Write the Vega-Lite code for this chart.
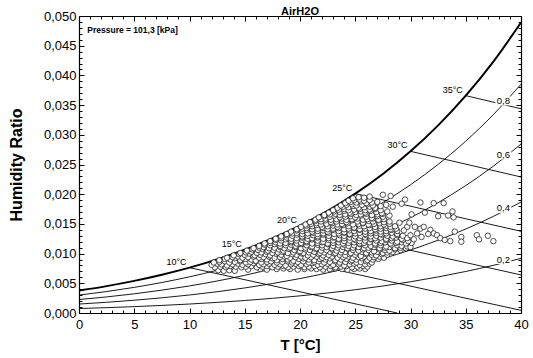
{
  "$schema": "https://vega.github.io/schema/vega-lite/v6.json",
  "width": 442,
  "height": 297,
  "autosize": {"type": "none"},
  "padding": {"left": 79, "top": 16, "right": 12, "bottom": 45},
  "background": "white",
  "title": {"text": "AirH2O", "font": "Liberation Sans", "fontSize": 11, "fontWeight": "bold", "color": "black", "offset": -7, "anchor": "middle"},
  "config": {
    "view": {"stroke": null},
    "axis": {
      "grid": false,
      "labelFont": "Liberation Sans",
      "labelFontSize": 13,
      "labelColor": "black",
      "tickColor": "black",
      "domainColor": "black",
      "titleFont": "Liberation Sans",
      "titleColor": "black",
      "titleFontWeight": "bold"
    }
  },
  "datasets": {
    "curves": [
      {"id": "sat", "kind": "sat", "T": 0, "W": 0.003776},
      {"id": "sat", "kind": "sat", "T": 2.5, "W": 0.004525},
      {"id": "sat", "kind": "sat", "T": 5, "W": 0.005405},
      {"id": "sat", "kind": "sat", "T": 7.5, "W": 0.006438},
      {"id": "sat", "kind": "sat", "T": 10, "W": 0.007634},
      {"id": "sat", "kind": "sat", "T": 12.5, "W": 0.009031},
      {"id": "sat", "kind": "sat", "T": 15, "W": 0.010653},
      {"id": "sat", "kind": "sat", "T": 17.5, "W": 0.012538},
      {"id": "sat", "kind": "sat", "T": 20, "W": 0.014703},
      {"id": "sat", "kind": "sat", "T": 22.5, "W": 0.017193},
      {"id": "sat", "kind": "sat", "T": 25, "W": 0.020091},
      {"id": "sat", "kind": "sat", "T": 27.5, "W": 0.023401},
      {"id": "sat", "kind": "sat", "T": 30, "W": 0.027216},
      {"id": "sat", "kind": "sat", "T": 32.5, "W": 0.031592},
      {"id": "sat", "kind": "sat", "T": 35, "W": 0.036594},
      {"id": "sat", "kind": "sat", "T": 37.5, "W": 0.042328},
      {"id": "sat", "kind": "sat", "T": 40, "W": 0.048907},
      {"id": "rh80", "kind": "thin", "T": 0, "W": 0.003017},
      {"id": "rh80", "kind": "thin", "T": 2.5, "W": 0.003615},
      {"id": "rh80", "kind": "thin", "T": 5, "W": 0.004316},
      {"id": "rh80", "kind": "thin", "T": 7.5, "W": 0.005139},
      {"id": "rh80", "kind": "thin", "T": 10, "W": 0.006092},
      {"id": "rh80", "kind": "thin", "T": 12.5, "W": 0.007204},
      {"id": "rh80", "kind": "thin", "T": 15, "W": 0.008493},
      {"id": "rh80", "kind": "thin", "T": 17.5, "W": 0.00999},
      {"id": "rh80", "kind": "thin", "T": 20, "W": 0.011707},
      {"id": "rh80", "kind": "thin", "T": 22.5, "W": 0.013678},
      {"id": "rh80", "kind": "thin", "T": 25, "W": 0.01597},
      {"id": "rh80", "kind": "thin", "T": 27.5, "W": 0.018581},
      {"id": "rh80", "kind": "thin", "T": 30, "W": 0.021584},
      {"id": "rh80", "kind": "thin", "T": 32.5, "W": 0.025019},
      {"id": "rh80", "kind": "thin", "T": 35, "W": 0.028935},
      {"id": "rh80", "kind": "thin", "T": 37.5, "W": 0.033408},
      {"id": "rh80", "kind": "thin", "T": 40, "W": 0.03852},
      {"id": "rh60", "kind": "thin", "T": 0, "W": 0.00226},
      {"id": "rh60", "kind": "thin", "T": 2.5, "W": 0.002707},
      {"id": "rh60", "kind": "thin", "T": 5, "W": 0.003231},
      {"id": "rh60", "kind": "thin", "T": 7.5, "W": 0.003847},
      {"id": "rh60", "kind": "thin", "T": 10, "W": 0.004558},
      {"id": "rh60", "kind": "thin", "T": 12.5, "W": 0.005387},
      {"id": "rh60", "kind": "thin", "T": 15, "W": 0.006348},
      {"id": "rh60", "kind": "thin", "T": 17.5, "W": 0.007463},
      {"id": "rh60", "kind": "thin", "T": 20, "W": 0.008739},
      {"id": "rh60", "kind": "thin", "T": 22.5, "W": 0.010203},
      {"id": "rh60", "kind": "thin", "T": 25, "W": 0.011901},
      {"id": "rh60", "kind": "thin", "T": 27.5, "W": 0.013833},
      {"id": "rh60", "kind": "thin", "T": 30, "W": 0.016049},
      {"id": "rh60", "kind": "thin", "T": 32.5, "W": 0.018578},
      {"id": "rh60", "kind": "thin", "T": 35, "W": 0.021452},
      {"id": "rh60", "kind": "thin", "T": 37.5, "W": 0.024724},
      {"id": "rh60", "kind": "thin", "T": 40, "W": 0.028449},
      {"id": "rh40", "kind": "thin", "T": 0, "W": 0.001505},
      {"id": "rh40", "kind": "thin", "T": 2.5, "W": 0.001802},
      {"id": "rh40", "kind": "thin", "T": 5, "W": 0.002151},
      {"id": "rh40", "kind": "thin", "T": 7.5, "W": 0.002559},
      {"id": "rh40", "kind": "thin", "T": 10, "W": 0.003031},
      {"id": "rh40", "kind": "thin", "T": 12.5, "W": 0.003581},
      {"id": "rh40", "kind": "thin", "T": 15, "W": 0.004218},
      {"id": "rh40", "kind": "thin", "T": 17.5, "W": 0.004955},
      {"id": "rh40", "kind": "thin", "T": 20, "W": 0.005799},
      {"id": "rh40", "kind": "thin", "T": 22.5, "W": 0.006765},
      {"id": "rh40", "kind": "thin", "T": 25, "W": 0.007884},
      {"id": "rh40", "kind": "thin", "T": 27.5, "W": 0.009154},
      {"id": "rh40", "kind": "thin", "T": 30, "W": 0.010608},
      {"id": "rh40", "kind": "thin", "T": 32.5, "W": 0.012263},
      {"id": "rh40", "kind": "thin", "T": 35, "W": 0.014139},
      {"id": "rh40", "kind": "thin", "T": 37.5, "W": 0.016267},
      {"id": "rh40", "kind": "thin", "T": 40, "W": 0.018681},
      {"id": "rh20", "kind": "thin", "T": 0, "W": 0.000751},
      {"id": "rh20", "kind": "thin", "T": 2.5, "W": 0.0009},
      {"id": "rh20", "kind": "thin", "T": 5, "W": 0.001073},
      {"id": "rh20", "kind": "thin", "T": 7.5, "W": 0.001277},
      {"id": "rh20", "kind": "thin", "T": 10, "W": 0.001512},
      {"id": "rh20", "kind": "thin", "T": 12.5, "W": 0.001785},
      {"id": "rh20", "kind": "thin", "T": 15, "W": 0.002102},
      {"id": "rh20", "kind": "thin", "T": 17.5, "W": 0.002468},
      {"id": "rh20", "kind": "thin", "T": 20, "W": 0.002886},
      {"id": "rh20", "kind": "thin", "T": 22.5, "W": 0.003364},
      {"id": "rh20", "kind": "thin", "T": 25, "W": 0.003917},
      {"id": "rh20", "kind": "thin", "T": 27.5, "W": 0.004543},
      {"id": "rh20", "kind": "thin", "T": 30, "W": 0.005259},
      {"id": "rh20", "kind": "thin", "T": 32.5, "W": 0.006072},
      {"id": "rh20", "kind": "thin", "T": 35, "W": 0.00699},
      {"id": "rh20", "kind": "thin", "T": 37.5, "W": 0.008029},
      {"id": "rh20", "kind": "thin", "T": 40, "W": 0.009203},
      {"id": "wb10", "kind": "thin", "T": 10, "W": 0.007634},
      {"id": "wb10", "kind": "thin", "T": 28.8, "W": 0},
      {"id": "wb15", "kind": "thin", "T": 15, "W": 0.010653},
      {"id": "wb15", "kind": "thin", "T": 40, "W": 0.000447},
      {"id": "wb20", "kind": "thin", "T": 20, "W": 0.014703},
      {"id": "wb20", "kind": "thin", "T": 40, "W": 0.006409},
      {"id": "wb25", "kind": "thin", "T": 25, "W": 0.020091},
      {"id": "wb25", "kind": "thin", "T": 40, "W": 0.013757},
      {"id": "wb30", "kind": "thin", "T": 30, "W": 0.027216},
      {"id": "wb30", "kind": "thin", "T": 40, "W": 0.022903},
      {"id": "wb35", "kind": "thin", "T": 35, "W": 0.036594},
      {"id": "wb35", "kind": "thin", "T": 40, "W": 0.034383}
    ],
    "wetbulb": [
      {"T": 10, "W": 0.007634, "label": "10°C"},
      {"T": 15, "W": 0.010653, "label": "15°C"},
      {"T": 20, "W": 0.014703, "label": "20°C"},
      {"T": 25, "W": 0.020091, "label": "25°C"},
      {"T": 30, "W": 0.027216, "label": "30°C"},
      {"T": 35, "W": 0.036594, "label": "35°C"}
    ],
    "rh": [
      {"T": 38.4, "W": 0.0357, "label": "0,8"},
      {"T": 38.4, "W": 0.0266, "label": "0,6"},
      {"T": 38.4, "W": 0.0176, "label": "0,4"},
      {"T": 38.4, "W": 0.009, "label": "0,2"}
    ],
    "obs": [
      {"T":12.6,"W":0.0072},{"T":13.1,"W":0.0071},{"T":13.6,"W":0.0072},{"T":14.1,"W":0.0071},{"T":15.3,"W":0.0073},{"T":16.4,"W":0.0074},{"T":17.0,"W":0.0073},{"T":17.9,"W":0.0074},{"T":18.5,"W":0.0075},{"T":19.1,"W":0.0074},{"T":19.8,"W":0.0073},{"T":20.4,"W":0.0074},{"T":21.0,"W":0.0075},{"T":21.5,"W":0.0074},{"T":22.1,"W":0.0073},{"T":22.7,"W":0.0074},{"T":23.2,"W":0.0075},{"T":23.8,"W":0.0074},{"T":24.3,"W":0.0073},{"T":24.9,"W":0.0074},{"T":25.4,"W":0.0075},{"T":25.9,"W":0.0074},
      {"T":12.3,"W":0.0077},{"T":12.8,"W":0.0078},{"T":13.3,"W":0.0077},{"T":13.7,"W":0.0079},{"T":14.2,"W":0.0078},{"T":14.7,"W":0.0077},{"T":15.1,"W":0.0078},{"T":15.6,"W":0.0079},{"T":16.1,"W":0.0077},{"T":16.6,"W":0.0078},{"T":17.0,"W":0.0079},{"T":17.5,"W":0.0077},{"T":18.0,"W":0.0078},{"T":18.5,"W":0.0079},{"T":18.9,"W":0.0077},{"T":19.4,"W":0.0078},{"T":19.9,"W":0.0079},{"T":20.4,"W":0.0077},{"T":20.8,"W":0.0078},{"T":21.3,"W":0.0079},{"T":21.8,"W":0.0077},{"T":22.3,"W":0.0078},{"T":22.8,"W":0.0079},{"T":23.2,"W":0.0077},{"T":23.7,"W":0.0078},{"T":24.2,"W":0.0079},{"T":24.7,"W":0.0077},{"T":25.2,"W":0.0078},{"T":25.7,"W":0.0079},{"T":26.1,"W":0.0078},
      {"T":12.0,"W":0.0081},{"T":12.5,"W":0.0083},{"T":12.9,"W":0.0082},{"T":13.4,"W":0.008},{"T":13.9,"W":0.0082},{"T":14.4,"W":0.0083},{"T":14.8,"W":0.0081},{"T":15.3,"W":0.0082},{"T":15.8,"W":0.0084},{"T":16.3,"W":0.0081},{"T":16.7,"W":0.0082},{"T":17.2,"W":0.0083},{"T":17.7,"W":0.0081},{"T":18.2,"W":0.0082},{"T":18.7,"W":0.008},{"T":19.2,"W":0.0082},{"T":19.6,"W":0.0083},{"T":20.1,"W":0.0081},{"T":20.6,"W":0.0082},{"T":21.1,"W":0.0084},{"T":21.6,"W":0.0081},{"T":22.0,"W":0.0082},{"T":22.5,"W":0.0083},{"T":23.0,"W":0.0081},{"T":23.5,"W":0.0082},{"T":24.0,"W":0.008},{"T":24.5,"W":0.0082},{"T":24.9,"W":0.0083},{"T":25.4,"W":0.0081},{"T":25.9,"W":0.0082},{"T":26.3,"W":0.0083},
      {"T":12.2,"W":0.0085},{"T":12.7,"W":0.0086},{"T":13.2,"W":0.0087},{"T":13.6,"W":0.0085},{"T":14.1,"W":0.0086},{"T":14.6,"W":0.0087},{"T":15.1,"W":0.0085},{"T":15.5,"W":0.0086},{"T":16.0,"W":0.0087},{"T":16.5,"W":0.0085},{"T":17.0,"W":0.0086},{"T":17.4,"W":0.0087},{"T":17.9,"W":0.0085},{"T":18.4,"W":0.0086},{"T":18.9,"W":0.0087},{"T":19.3,"W":0.0085},{"T":19.8,"W":0.0086},{"T":20.3,"W":0.0087},{"T":20.8,"W":0.0085},{"T":21.3,"W":0.0086},{"T":21.7,"W":0.0087},{"T":22.2,"W":0.0085},{"T":22.7,"W":0.0086},{"T":23.2,"W":0.0087},{"T":23.6,"W":0.0085},{"T":24.1,"W":0.0086},{"T":24.6,"W":0.0087},{"T":25.1,"W":0.0085},{"T":25.5,"W":0.0086},{"T":26.0,"W":0.0087},{"T":26.5,"W":0.0085},
      {"T":12.7,"W":0.0089},{"T":13.2,"W":0.0091},{"T":13.7,"W":0.009},{"T":14.1,"W":0.0092},{"T":14.6,"W":0.0089},{"T":15.1,"W":0.0091},{"T":15.6,"W":0.009},{"T":16.0,"W":0.0088},{"T":16.5,"W":0.0091},{"T":17.0,"W":0.009},{"T":17.5,"W":0.0092},{"T":17.9,"W":0.0089},{"T":18.4,"W":0.0091},{"T":18.9,"W":0.009},{"T":19.4,"W":0.0088},{"T":19.9,"W":0.0091},{"T":20.3,"W":0.0092},{"T":20.8,"W":0.009},{"T":21.3,"W":0.0089},{"T":21.8,"W":0.0091},{"T":22.3,"W":0.009},{"T":22.7,"W":0.0092},{"T":23.2,"W":0.0089},{"T":23.7,"W":0.009},{"T":24.2,"W":0.0091},{"T":24.7,"W":0.0089},{"T":25.1,"W":0.009},{"T":25.6,"W":0.0092},{"T":26.1,"W":0.0089},{"T":26.6,"W":0.009},{"T":27.1,"W":0.0091},
      {"T":13.4,"W":0.0093},{"T":13.9,"W":0.0094},{"T":14.4,"W":0.0095},{"T":14.8,"W":0.0093},{"T":15.3,"W":0.0094},{"T":15.8,"W":0.0095},{"T":16.3,"W":0.0093},{"T":16.7,"W":0.0094},{"T":17.2,"W":0.0095},{"T":17.7,"W":0.0093},{"T":18.2,"W":0.0094},{"T":18.6,"W":0.0095},{"T":19.1,"W":0.0093},{"T":19.6,"W":0.0094},{"T":20.1,"W":0.0095},{"T":20.5,"W":0.0093},{"T":21.0,"W":0.0094},{"T":21.5,"W":0.0095},{"T":22.0,"W":0.0093},{"T":22.4,"W":0.0094},{"T":22.9,"W":0.0095},{"T":23.4,"W":0.0093},{"T":23.9,"W":0.0094},{"T":24.4,"W":0.0095},{"T":24.8,"W":0.0093},{"T":25.3,"W":0.0094},{"T":25.8,"W":0.0095},{"T":26.3,"W":0.0093},{"T":26.7,"W":0.0094},{"T":27.2,"W":0.0095},{"T":27.6,"W":0.0093},
      {"T":14.0,"W":0.0097},{"T":14.5,"W":0.0099},{"T":15.0,"W":0.0098},{"T":15.4,"W":0.01},{"T":15.9,"W":0.0097},{"T":16.4,"W":0.0098},{"T":16.9,"W":0.0099},{"T":17.3,"W":0.0097},{"T":17.8,"W":0.01},{"T":18.3,"W":0.0098},{"T":18.8,"W":0.0096},{"T":19.3,"W":0.0099},{"T":19.7,"W":0.0098},{"T":20.2,"W":0.01},{"T":20.7,"W":0.0097},{"T":21.2,"W":0.0098},{"T":21.7,"W":0.0099},{"T":22.1,"W":0.0097},{"T":22.6,"W":0.0098},{"T":23.1,"W":0.01},{"T":23.6,"W":0.0098},{"T":24.1,"W":0.0097},{"T":24.5,"W":0.0099},{"T":25.0,"W":0.0098},{"T":25.5,"W":0.0096},{"T":26.0,"W":0.0099},{"T":26.5,"W":0.0098},{"T":26.9,"W":0.0097},{"T":27.4,"W":0.0099},{"T":27.9,"W":0.0098},
      {"T":14.6,"W":0.0101},{"T":15.1,"W":0.0102},{"T":15.6,"W":0.0103},{"T":16.1,"W":0.0101},{"T":16.5,"W":0.0102},{"T":17.0,"W":0.0103},{"T":17.5,"W":0.0101},{"T":18.0,"W":0.0102},{"T":18.4,"W":0.0103},{"T":18.9,"W":0.0101},{"T":19.4,"W":0.0102},{"T":19.9,"W":0.0103},{"T":20.3,"W":0.0101},{"T":20.8,"W":0.0102},{"T":21.3,"W":0.0103},{"T":21.8,"W":0.0101},{"T":22.2,"W":0.0102},{"T":22.7,"W":0.0103},{"T":23.2,"W":0.0101},{"T":23.7,"W":0.0102},{"T":24.1,"W":0.0103},{"T":24.6,"W":0.0101},{"T":25.1,"W":0.0102},{"T":25.6,"W":0.0103},{"T":26.0,"W":0.0101},{"T":26.5,"W":0.0102},{"T":27.0,"W":0.0103},{"T":27.5,"W":0.0101},{"T":27.9,"W":0.0102},{"T":28.4,"W":0.0103},
      {"T":15.2,"W":0.0105},{"T":15.7,"W":0.0107},{"T":16.2,"W":0.0106},{"T":16.6,"W":0.0108},{"T":17.1,"W":0.0105},{"T":17.6,"W":0.0106},{"T":18.1,"W":0.0107},{"T":18.5,"W":0.0105},{"T":19.0,"W":0.0108},{"T":19.5,"W":0.0106},{"T":20.0,"W":0.0104},{"T":20.5,"W":0.0107},{"T":20.9,"W":0.0106},{"T":21.4,"W":0.0108},{"T":21.9,"W":0.0105},{"T":22.4,"W":0.0106},{"T":22.9,"W":0.0107},{"T":23.3,"W":0.0105},{"T":23.8,"W":0.0106},{"T":24.3,"W":0.0108},{"T":24.8,"W":0.0106},{"T":25.3,"W":0.0105},{"T":25.7,"W":0.0107},{"T":26.2,"W":0.0106},{"T":26.7,"W":0.0104},{"T":27.2,"W":0.0107},{"T":27.7,"W":0.0106},{"T":28.1,"W":0.0105},{"T":28.6,"W":0.0107},{"T":29.1,"W":0.0106},
      {"T":15.8,"W":0.0109},{"T":16.3,"W":0.011},{"T":16.7,"W":0.0111},{"T":17.2,"W":0.0109},{"T":17.7,"W":0.011},{"T":18.2,"W":0.0111},{"T":18.6,"W":0.0109},{"T":19.1,"W":0.011},{"T":19.6,"W":0.0111},{"T":20.1,"W":0.0109},{"T":20.5,"W":0.011},{"T":21.0,"W":0.0111},{"T":21.5,"W":0.0109},{"T":22.0,"W":0.011},{"T":22.4,"W":0.0111},{"T":22.9,"W":0.0109},{"T":23.4,"W":0.011},{"T":23.9,"W":0.0111},{"T":24.3,"W":0.0109},{"T":24.8,"W":0.011},{"T":25.3,"W":0.0111},{"T":25.8,"W":0.0109},{"T":26.2,"W":0.011},{"T":26.7,"W":0.0111},{"T":27.2,"W":0.0109},{"T":27.7,"W":0.011},{"T":28.1,"W":0.0111},{"T":28.6,"W":0.0109},{"T":29.1,"W":0.011},{"T":29.6,"W":0.0109},
      {"T":16.3,"W":0.0113},{"T":16.8,"W":0.0115},{"T":17.3,"W":0.0114},{"T":17.7,"W":0.0116},{"T":18.2,"W":0.0113},{"T":18.7,"W":0.0114},{"T":19.2,"W":0.0115},{"T":19.6,"W":0.0113},{"T":20.1,"W":0.0116},{"T":20.6,"W":0.0114},{"T":21.1,"W":0.0112},{"T":21.6,"W":0.0115},{"T":22.0,"W":0.0114},{"T":22.5,"W":0.0116},{"T":23.0,"W":0.0113},{"T":23.5,"W":0.0114},{"T":24.0,"W":0.0115},{"T":24.4,"W":0.0113},{"T":24.9,"W":0.0114},{"T":25.4,"W":0.0116},{"T":25.9,"W":0.0114},{"T":26.4,"W":0.0113},{"T":26.8,"W":0.0115},{"T":27.3,"W":0.0114},{"T":27.8,"W":0.0112},{"T":28.3,"W":0.0115},{"T":28.8,"W":0.0114},{"T":29.2,"W":0.0113},{"T":29.7,"W":0.0112},{"T":30.0,"W":0.0111},
      {"T":16.8,"W":0.0117},{"T":17.3,"W":0.0118},{"T":17.8,"W":0.0119},{"T":18.2,"W":0.0117},{"T":18.7,"W":0.0118},{"T":19.2,"W":0.0119},{"T":19.7,"W":0.0117},{"T":20.1,"W":0.0118},{"T":20.6,"W":0.0119},{"T":21.1,"W":0.0117},{"T":21.6,"W":0.0118},{"T":22.0,"W":0.0119},{"T":22.5,"W":0.0117},{"T":23.0,"W":0.0118},{"T":23.5,"W":0.0119},{"T":23.9,"W":0.0117},{"T":24.4,"W":0.0118},{"T":24.9,"W":0.0119},{"T":25.4,"W":0.0117},{"T":25.8,"W":0.0118},{"T":26.3,"W":0.0119},{"T":26.8,"W":0.0117},{"T":27.3,"W":0.0118},{"T":27.7,"W":0.0119},{"T":28.2,"W":0.0117},{"T":28.7,"W":0.0118},{"T":29.2,"W":0.0119},{"T":29.6,"W":0.0117},{"T":30.1,"W":0.0118},
      {"T":17.3,"W":0.0121},{"T":17.8,"W":0.0123},{"T":18.3,"W":0.0122},{"T":18.7,"W":0.0124},{"T":19.2,"W":0.0121},{"T":19.7,"W":0.0122},{"T":20.2,"W":0.0123},{"T":20.6,"W":0.0121},{"T":21.1,"W":0.0124},{"T":21.6,"W":0.0122},{"T":22.1,"W":0.012},{"T":22.6,"W":0.0123},{"T":23.0,"W":0.0122},{"T":23.5,"W":0.0124},{"T":24.0,"W":0.0121},{"T":24.5,"W":0.0122},{"T":25.0,"W":0.0123},{"T":25.4,"W":0.0121},{"T":25.9,"W":0.0122},{"T":26.4,"W":0.0124},{"T":26.9,"W":0.0122},{"T":27.4,"W":0.0121},{"T":27.8,"W":0.0123},{"T":28.3,"W":0.0122},{"T":28.8,"W":0.012},{"T":29.3,"W":0.0123},{"T":29.8,"W":0.0121},
      {"T":17.8,"W":0.0125},{"T":18.3,"W":0.0126},{"T":18.8,"W":0.0127},{"T":19.2,"W":0.0125},{"T":19.7,"W":0.0126},{"T":20.2,"W":0.0127},{"T":20.7,"W":0.0125},{"T":21.1,"W":0.0126},{"T":21.6,"W":0.0127},{"T":22.1,"W":0.0125},{"T":22.6,"W":0.0126},{"T":23.0,"W":0.0127},{"T":23.5,"W":0.0125},{"T":24.0,"W":0.0126},{"T":24.5,"W":0.0127},{"T":24.9,"W":0.0125},{"T":25.4,"W":0.0126},{"T":25.9,"W":0.0127},{"T":26.4,"W":0.0125},{"T":26.8,"W":0.0126},{"T":27.3,"W":0.0127},{"T":27.8,"W":0.0125},{"T":28.3,"W":0.0126},{"T":28.7,"W":0.0127},{"T":29.2,"W":0.0125},{"T":29.7,"W":0.0126},
      {"T":18.3,"W":0.0129},{"T":18.8,"W":0.0131},{"T":19.3,"W":0.013},{"T":19.7,"W":0.0132},{"T":20.2,"W":0.0129},{"T":20.7,"W":0.013},{"T":21.2,"W":0.0131},{"T":21.6,"W":0.0129},{"T":22.1,"W":0.0132},{"T":22.6,"W":0.013},{"T":23.1,"W":0.0128},{"T":23.6,"W":0.0131},{"T":24.0,"W":0.013},{"T":24.5,"W":0.0132},{"T":25.0,"W":0.0129},{"T":25.5,"W":0.013},{"T":26.0,"W":0.0131},{"T":26.4,"W":0.0129},{"T":26.9,"W":0.013},{"T":27.4,"W":0.0132},{"T":27.9,"W":0.013},{"T":28.4,"W":0.0129},{"T":28.8,"W":0.0131},{"T":29.3,"W":0.013},
      {"T":18.8,"W":0.0133},{"T":19.3,"W":0.0134},{"T":19.7,"W":0.0135},{"T":20.2,"W":0.0133},{"T":20.7,"W":0.0134},{"T":21.2,"W":0.0135},{"T":21.6,"W":0.0133},{"T":22.1,"W":0.0134},{"T":22.6,"W":0.0135},{"T":23.1,"W":0.0133},{"T":23.5,"W":0.0134},{"T":24.0,"W":0.0135},{"T":24.5,"W":0.0133},{"T":25.0,"W":0.0134},{"T":25.4,"W":0.0135},{"T":25.9,"W":0.0133},{"T":26.4,"W":0.0134},{"T":26.9,"W":0.0135},{"T":27.3,"W":0.0133},{"T":27.8,"W":0.0134},{"T":28.3,"W":0.0135},{"T":28.8,"W":0.0133},
      {"T":19.2,"W":0.0137},{"T":19.7,"W":0.0139},{"T":20.2,"W":0.0138},{"T":20.6,"W":0.014},{"T":21.1,"W":0.0137},{"T":21.6,"W":0.0138},{"T":22.1,"W":0.0139},{"T":22.5,"W":0.0137},{"T":23.0,"W":0.014},{"T":23.5,"W":0.0138},{"T":24.0,"W":0.0136},{"T":24.5,"W":0.0139},{"T":24.9,"W":0.0138},{"T":25.4,"W":0.014},{"T":25.9,"W":0.0137},{"T":26.4,"W":0.0138},{"T":26.9,"W":0.0139},{"T":27.3,"W":0.0137},{"T":27.8,"W":0.0138},{"T":28.3,"W":0.014},{"T":28.8,"W":0.0138},
      {"T":19.7,"W":0.0141},{"T":20.2,"W":0.0142},{"T":20.6,"W":0.0143},{"T":21.1,"W":0.0141},{"T":21.6,"W":0.0142},{"T":22.1,"W":0.0143},{"T":22.5,"W":0.0141},{"T":23.0,"W":0.0142},{"T":23.5,"W":0.0143},{"T":24.0,"W":0.0141},{"T":24.4,"W":0.0142},{"T":24.9,"W":0.0143},{"T":25.4,"W":0.0141},{"T":25.9,"W":0.0142},{"T":26.3,"W":0.0143},{"T":26.8,"W":0.0141},{"T":27.3,"W":0.0142},{"T":27.8,"W":0.0143},{"T":28.2,"W":0.0141},{"T":28.7,"W":0.0142},
      {"T":20.1,"W":0.0145},{"T":20.6,"W":0.0147},{"T":21.1,"W":0.0146},{"T":21.5,"W":0.0148},{"T":22.0,"W":0.0145},{"T":22.5,"W":0.0146},{"T":23.0,"W":0.0147},{"T":23.4,"W":0.0145},{"T":23.9,"W":0.0148},{"T":24.4,"W":0.0146},{"T":24.9,"W":0.0144},{"T":25.4,"W":0.0147},{"T":25.8,"W":0.0146},{"T":26.3,"W":0.0148},{"T":26.8,"W":0.0145},{"T":27.3,"W":0.0146},{"T":27.8,"W":0.0147},{"T":28.2,"W":0.0145},{"T":28.6,"W":0.0146},
      {"T":20.5,"W":0.0149},{"T":21.0,"W":0.015},{"T":21.5,"W":0.0151},{"T":21.9,"W":0.0149},{"T":22.4,"W":0.015},{"T":22.9,"W":0.0151},{"T":23.4,"W":0.0149},{"T":23.8,"W":0.015},{"T":24.3,"W":0.0151},{"T":24.8,"W":0.0149},{"T":25.3,"W":0.015},{"T":25.7,"W":0.0151},{"T":26.2,"W":0.0149},{"T":26.7,"W":0.015},{"T":27.2,"W":0.0151},{"T":27.6,"W":0.0149},{"T":28.1,"W":0.015},
      {"T":20.9,"W":0.0153},{"T":21.4,"W":0.0155},{"T":21.9,"W":0.0154},{"T":22.3,"W":0.0156},{"T":22.8,"W":0.0153},{"T":23.3,"W":0.0154},{"T":23.8,"W":0.0155},{"T":24.2,"W":0.0153},{"T":24.7,"W":0.0156},{"T":25.2,"W":0.0154},{"T":25.7,"W":0.0152},{"T":26.2,"W":0.0155},{"T":26.6,"W":0.0154},{"T":27.1,"W":0.0156},{"T":27.6,"W":0.0153},{"T":28.1,"W":0.0154},
      {"T":21.4,"W":0.0157},{"T":21.9,"W":0.0158},{"T":22.3,"W":0.0159},{"T":22.8,"W":0.0157},{"T":23.3,"W":0.0158},{"T":23.8,"W":0.0159},{"T":24.2,"W":0.0157},{"T":24.7,"W":0.0158},{"T":25.2,"W":0.0159},{"T":25.7,"W":0.0157},{"T":26.1,"W":0.0158},{"T":26.6,"W":0.0159},{"T":27.1,"W":0.0157},{"T":27.6,"W":0.0158},
      {"T":21.7,"W":0.0161},{"T":22.2,"W":0.0163},{"T":22.7,"W":0.0162},{"T":23.1,"W":0.0164},{"T":23.6,"W":0.0161},{"T":24.1,"W":0.0162},{"T":24.6,"W":0.0163},{"T":25.0,"W":0.0161},{"T":25.5,"W":0.0164},{"T":26.0,"W":0.0162},{"T":26.5,"W":0.016},{"T":27.0,"W":0.0163},{"T":27.5,"W":0.0162},{"T":28.1,"W":0.0164},
      {"T":22.2,"W":0.0165},{"T":22.7,"W":0.0166},{"T":23.2,"W":0.0167},{"T":23.6,"W":0.0165},{"T":24.1,"W":0.0166},{"T":24.6,"W":0.0167},{"T":25.1,"W":0.0165},{"T":25.5,"W":0.0166},{"T":26.0,"W":0.0167},{"T":26.5,"W":0.0165},{"T":27.0,"W":0.0166},{"T":27.5,"W":0.0167},
      {"T":22.6,"W":0.0169},{"T":23.1,"W":0.0171},{"T":23.6,"W":0.017},{"T":24.0,"W":0.0172},{"T":24.5,"W":0.0169},{"T":25.0,"W":0.017},{"T":25.5,"W":0.0171},{"T":25.9,"W":0.0169},{"T":26.4,"W":0.0172},{"T":26.9,"W":0.017},{"T":27.4,"W":0.0168},{"T":27.9,"W":0.0171},
      {"T":23.0,"W":0.0173},{"T":23.5,"W":0.0174},{"T":24.0,"W":0.0175},{"T":24.4,"W":0.0173},{"T":24.9,"W":0.0174},{"T":25.4,"W":0.0175},{"T":25.9,"W":0.0173},{"T":26.3,"W":0.0174},{"T":26.8,"W":0.0175},{"T":27.3,"W":0.0173},
      {"T":23.4,"W":0.0177},{"T":23.9,"W":0.0179},{"T":24.4,"W":0.0178},{"T":24.8,"W":0.018},{"T":25.3,"W":0.0177},{"T":25.8,"W":0.0178},{"T":26.3,"W":0.0179},{"T":26.8,"W":0.0177},{"T":27.3,"W":0.018},
      {"T":23.7,"W":0.0181},{"T":24.2,"W":0.0182},{"T":24.7,"W":0.0183},{"T":25.1,"W":0.0181},{"T":25.6,"W":0.0182},{"T":26.1,"W":0.0183},{"T":26.6,"W":0.0181},
      {"T":24.1,"W":0.0185},{"T":24.6,"W":0.0187},{"T":25.1,"W":0.0186},{"T":25.5,"W":0.0188},{"T":26.0,"W":0.0185},{"T":26.5,"W":0.0186},{"T":27.0,"W":0.0187},
      {"T":24.4,"W":0.0189},{"T":24.9,"W":0.019},{"T":25.4,"W":0.0191},{"T":25.8,"W":0.0189},{"T":26.3,"W":0.019},
      {"T":24.8,"W":0.0193},{"T":25.3,"W":0.0195},{"T":25.8,"W":0.0194},{"T":26.3,"W":0.0196},
      {"T":27.5,"W":0.0199},{"T":28.2,"W":0.0197},{"T":29.5,"W":0.0191},{"T":30.9,"W":0.0186},{"T":32.1,"W":0.0185},{"T":33.0,"W":0.0185},{"T":27.8,"W":0.0182},{"T":28.4,"W":0.0179},{"T":29.2,"W":0.0184},{"T":30.1,"W":0.0166},{"T":31.3,"W":0.0169},{"T":32.5,"W":0.0163},{"T":33.4,"W":0.0164},{"T":33.8,"W":0.0171},{"T":33.9,"W":0.0161},{"T":29.0,"W":0.0152},{"T":29.7,"W":0.0145},{"T":30.4,"W":0.0145},{"T":30.9,"W":0.0142},{"T":31.2,"W":0.0145},{"T":30.6,"W":0.0134},{"T":31.0,"W":0.0128},{"T":31.8,"W":0.014},{"T":32.1,"W":0.0134},{"T":32.4,"W":0.0131},{"T":32.7,"W":0.0126},{"T":33.1,"W":0.0123},{"T":33.6,"W":0.0121},{"T":34.0,"W":0.0137},{"T":34.6,"W":0.0128},{"T":34.6,"W":0.012},{"T":36.0,"W":0.0131},{"T":36.2,"W":0.0124},{"T":37.0,"W":0.013},{"T":37.5,"W":0.0121},{"T":29.4,"W":0.0139},{"T":30.0,"W":0.0131},{"T":29.9,"W":0.0152},{"T":31.6,"W":0.0133},{"T":30.3,"W":0.0124}
    ],
    "note": [
      {"T": 0.75, "W": 0.0477, "label": "Pressure = 101,3 [kPa]"}
    ]
  },
  "resolve": {"axis": {"x": "independent", "y": "independent"}},
  "layer": [
    {
      "data": {"name": "curves"},
      "mark": {"type": "line", "interpolate": "monotone", "color": "black"},
      "encoding": {
        "x": {"field": "T", "type": "quantitative", "scale": {"domain": [0, 40], "nice": false, "zero": false},
              "axis": {"orient": "bottom", "values": [0, 5, 10, 15, 20, 25, 30, 35, 40], "tickSize": -5, "labelPadding": 10, "labelFlush": false, "domainWidth": 1.2, "title": "T [°C]", "titleFontSize": 15, "titlePadding": 6}},
        "y": {"field": "W", "type": "quantitative", "scale": {"domain": [0, 0.05], "nice": false, "zero": false},
              "axis": {"orient": "left", "values": [0, 0.005, 0.01, 0.015, 0.02, 0.025, 0.03, 0.035, 0.04, 0.045, 0.05], "tickSize": -5, "labelPadding": 8, "labelFlush": false, "domainWidth": 1.2, "labelExpr": "replace(format(datum.value, '.3f'), '.', ',')", "title": "Humidity Ratio", "titleFontSize": 16, "titlePadding": 19}},
        "detail": {"field": "id", "type": "nominal"},
        "strokeWidth": {"field": "kind", "type": "nominal", "scale": {"domain": ["sat", "thin"], "range": [2, 0.9]}, "legend": null}
      }
    },
    {
      "data": {"name": "wetbulb"},
      "mark": {"type": "text", "align": "right", "baseline": "alphabetic", "dx": -3, "dy": -3, "font": "Liberation Sans", "fontSize": 9, "color": "black"},
      "encoding": {
        "x": {"field": "T", "type": "quantitative", "axis": {"orient": "top", "values": [0, 5, 10, 15, 20, 25, 30, 35, 40], "tickSize": -5, "labels": false, "domainWidth": 1.2, "title": null}},
        "y": {"field": "W", "type": "quantitative", "axis": {"orient": "right", "values": [0, 0.005, 0.01, 0.015, 0.02, 0.025, 0.03, 0.035, 0.04, 0.045, 0.05], "tickSize": -5, "labels": false, "domainWidth": 1.2, "title": null}},
        "text": {"field": "label", "type": "nominal"}
      }
    },
    {
      "data": {"name": "obs"},
      "mark": {"type": "point", "shape": "circle", "filled": true, "fill": "white", "stroke": "#222", "strokeWidth": 0.8, "size": 30, "opacity": 1},
      "encoding": {
        "x": {"field": "T", "type": "quantitative", "axis": {"orient": "bottom", "values": [1,2,3,4,6,7,8,9,11,12,13,14,16,17,18,19,21,22,23,24,26,27,28,29,31,32,33,34,36,37,38,39], "tickSize": -3, "labels": false, "domain": false, "title": null}},
        "y": {"field": "W", "type": "quantitative", "axis": {"orient": "left", "values": [0.001,0.002,0.003,0.004,0.006,0.007,0.008,0.009,0.011,0.012,0.013,0.014,0.016,0.017,0.018,0.019,0.021,0.022,0.023,0.024,0.026,0.027,0.028,0.029,0.031,0.032,0.033,0.034,0.036,0.037,0.038,0.039,0.041,0.042,0.043,0.044,0.046,0.047,0.048,0.049], "tickSize": -3, "labels": false, "domain": false, "title": null}}
      }
    },
    {
      "data": {"name": "rh"},
      "mark": {"type": "point", "shape": "M-1,-0.55H1V0.55H-1Z", "filled": true, "fill": "white", "strokeWidth": 0, "size": 256, "opacity": 1},
      "encoding": {
        "x": {"field": "T", "type": "quantitative", "axis": {"orient": "top", "values": [1,2,3,4,6,7,8,9,11,12,13,14,16,17,18,19,21,22,23,24,26,27,28,29,31,32,33,34,36,37,38,39], "tickSize": -3, "labels": false, "domain": false, "title": null}},
        "y": {"field": "W", "type": "quantitative", "axis": {"orient": "right", "values": [0.001,0.002,0.003,0.004,0.006,0.007,0.008,0.009,0.011,0.012,0.013,0.014,0.016,0.017,0.018,0.019,0.021,0.022,0.023,0.024,0.026,0.027,0.028,0.029,0.031,0.032,0.033,0.034,0.036,0.037,0.038,0.039,0.041,0.042,0.043,0.044,0.046,0.047,0.048,0.049], "tickSize": -3, "labels": false, "domain": false, "title": null}}
      }
    },
    {
      "data": {"name": "rh"},
      "mark": {"type": "text", "align": "center", "baseline": "middle", "font": "Liberation Sans", "fontSize": 9.5, "color": "black"},
      "encoding": {
        "x": {"field": "T", "type": "quantitative", "axis": null},
        "y": {"field": "W", "type": "quantitative", "axis": null},
        "text": {"field": "label", "type": "nominal"}
      }
    },
    {
      "data": {"name": "note"},
      "mark": {"type": "text", "align": "left", "baseline": "middle", "font": "Liberation Sans", "fontSize": 8.5, "fontWeight": "bold", "color": "black"},
      "encoding": {
        "x": {"field": "T", "type": "quantitative", "axis": null},
        "y": {"field": "W", "type": "quantitative", "axis": null},
        "text": {"field": "label", "type": "nominal"}
      }
    }
  ]
}
